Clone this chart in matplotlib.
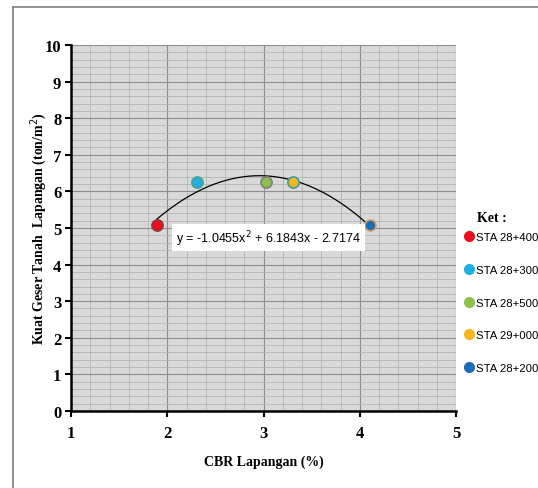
"""
Kuat geser tanah vs CBR lapangan, with the quadratic trendline.
"""
import numpy as np
import matplotlib.pyplot as plt
from matplotlib.lines import Line2D
plt.switch_backend("agg")

# data
stations = ["STA 28+400", "STA 28+300", "STA 28+500", "STA 29+000", "STA 28+200"]
cbr = [1.89, 2.31, 3.03, 3.31, 4.11]        # %
kuat_geser = [5.08, 6.26, 6.26, 6.26, 5.08]  # ton/m2
colors = ["#e8101a", "#1fb0e0", "#8cc04c", "#f4b81e", "#1d6db3"]
edges = ["#8a3a3a", "#4aa08c", "#808080", "#3a9fa0", "#d8a070"]

# trendline coefficients as printed on the chart
coef = [-1.0455, 6.1843, -2.7174]
eq_text = "y = -1.0455x$^2$ + 6.1843x - 2.7174"

SERIF = "Liberation Serif"
SANS = "Liberation Sans"


def main():
    fig = plt.figure(figsize=(5.38, 4.89), dpi=100)
    ax = fig.add_axes([0.132, 0.1575, 0.7156, 0.7485])

    ax.set_facecolor("#d9d9d9")
    ax.set_xlim(1, 5)
    ax.set_ylim(0, 10)
    ax.set_xticks(np.arange(1, 6, 1))
    ax.set_yticks(np.arange(0, 11, 1))
    ax.set_xticks(np.arange(1, 5.01, 0.2), minor=True)
    ax.set_yticks(np.arange(0, 10.01, 0.2), minor=True)
    ax.grid(which="major", color="#8e8e8e", linewidth=0.8)
    ax.grid(which="minor", color="#b4b4b4", linewidth=0.6)
    ax.set_axisbelow(True)

    for side in ("top", "right"):
        ax.spines[side].set_visible(False)
    for side in ("left", "bottom"):
        ax.spines[side].set_linewidth(1.8)
        ax.spines[side].set_color("black")
    ax.tick_params(which="major", direction="out", length=4, width=1.5)
    ax.tick_params(axis="x", which="major", pad=6)
    ax.tick_params(axis="y", which="major", pad=3)
    ax.tick_params(which="minor", length=0)
    for lab in ax.get_xticklabels() + ax.get_yticklabels():
        lab.set_fontfamily(SERIF)
        lab.set_fontweight("bold")
        lab.set_fontsize(12)

    # trendline over the data range
    xs = np.linspace(min(cbr), max(cbr), 200)
    ax.plot(xs, np.polyval(coef, xs), color="black", linewidth=0.9,
            zorder=3)

    handles = []
    for x, y, c, e, name in zip(cbr, kuat_geser, colors, edges, stations):
        ax.plot(x, y, "o", markersize=8, markerfacecolor=c,
                markeredgecolor=e, markeredgewidth=1.2, zorder=4)
        handles.append(Line2D([], [], linestyle="", marker="o",
                              markersize=7, markerfacecolor=c,
                              markeredgecolor=c, label=name))

    ax.text(3.05, 4.73, eq_text, ha="center", va="center",
            fontfamily=SANS, fontsize=9, zorder=5,
            bbox=dict(boxstyle="square,pad=0.3", facecolor="white",
                      edgecolor="none"))

    ax.set_xlabel("CBR Lapangan (%)", fontfamily=SERIF, fontweight="bold",
                  fontsize=10, labelpad=10)
    ax.set_ylabel("Kuat Geser Tanah  Lapangan (ton/m$^2$)", fontfamily=SERIF,
                  fontweight="bold", fontsize=10)
    ax.yaxis.set_label_coords(-0.058, 0.5)

    fig.text(0.915, 1 - 219 / 489, "Ket :", ha="center", va="center",
             fontfamily=SERIF, fontweight="bold", fontsize=10)
    fig.legend(handles=handles, loc="upper left",
               bbox_to_anchor=(0.866, 1 - 233 / 489), frameon=False,
               handlelength=0.6, handletextpad=0.3,
               labelspacing=2.0, borderaxespad=0, borderpad=0,
               prop={"family": SANS, "size": 8.2})

    # outer chart border (only left and top edges visible)
    fig.add_artist(Line2D([0.024, 0.024], [0, 0.984], color="#7f7f7f",
                          linewidth=1.2, transform=fig.transFigure))
    fig.add_artist(Line2D([0.024, 1], [0.984, 0.984], color="#7f7f7f",
                          linewidth=1.2, transform=fig.transFigure))

    fig.savefig("out.png", dpi=100, facecolor="white")


if __name__ == '__main__':
    main()
